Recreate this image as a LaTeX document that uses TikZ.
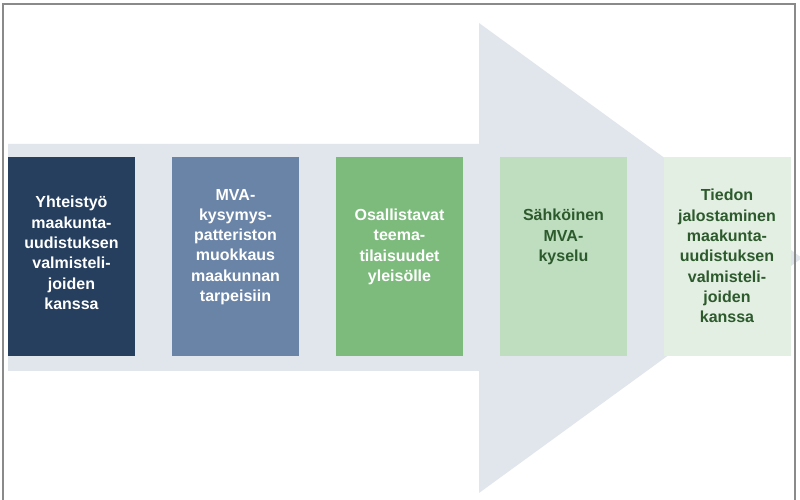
\documentclass[tikz,border=0pt]{standalone}
\usepackage{fontspec}
\setmainfont{Liberation Sans}
\definecolor{arrowc}{HTML}{E1E6ED}
\definecolor{cA}{HTML}{263F5E}
\definecolor{cB}{HTML}{6A84A8}
\definecolor{cC}{HTML}{7DBB7D}
\definecolor{cD}{HTML}{BEDEBF}
\definecolor{cE}{HTML}{E2EFE2}
\definecolor{tgreen}{HTML}{2D5A2D}
\definecolor{framec}{HTML}{8A8A8A}
\begin{document}
\begin{tikzpicture}[x=1pt,y=1pt,
  stepbox/.style={draw=none,minimum width=127pt,minimum height=199pt,inner sep=0pt},
  steptext/.style={align=center,font=\bfseries\fontsize{16}{20.3}\selectfont,inner sep=0pt}]
\useasboundingbox (0,0) rectangle (800,500);
\clip (0,0) rectangle (800,500);
\fill[white] (0,0) rectangle (800,500);
% big arrow
\fill[arrowc] (8,356) -- (479,356) -- (479,477) -- (802,242) -- (479,7) -- (479,129) -- (8,129) -- cycle;
% boxes
\node[stepbox,fill=cA] (b1) at (71.5,243.5) {};
\node[stepbox,fill=cB] (b2) at (235.5,243.5) {};
\node[stepbox,fill=cC] (b3) at (399.5,243.5) {};
\node[stepbox,fill=cD] (b4) at (563.5,243.5) {};
\node[stepbox,fill=cE] (b5) at (727,243.5) {};
% texts
\node[steptext,text=white] (t1) at (71.5,247) {Yhteistyö\\maakunta-\\uudistuksen\\valmisteli-\\joiden\\kanssa};
\node[steptext,text=white] (t2) at (235.5,253) {MVA-\\kysymys-\\patteriston\\muokkaus\\maakunnan\\tarpeisiin};
\node[steptext,text=white] (t3) at (399.5,253) {Osallistavat\\teema-\\tilaisuudet\\yleisölle};
\node[steptext,text=tgreen] (t4) at (563.5,263) {Sähköinen\\MVA-\\kyselu};
\node[steptext,text=tgreen] (t5) at (727,244) {Tiedon\\jalostaminen\\maakunta-\\uudistuksen\\valmisteli-\\joiden\\kanssa};
% frame
\draw[framec,line width=1.2pt] (3,0) -- (3,496) -- (795,496) -- (795,0);
\end{tikzpicture}
\end{document}
